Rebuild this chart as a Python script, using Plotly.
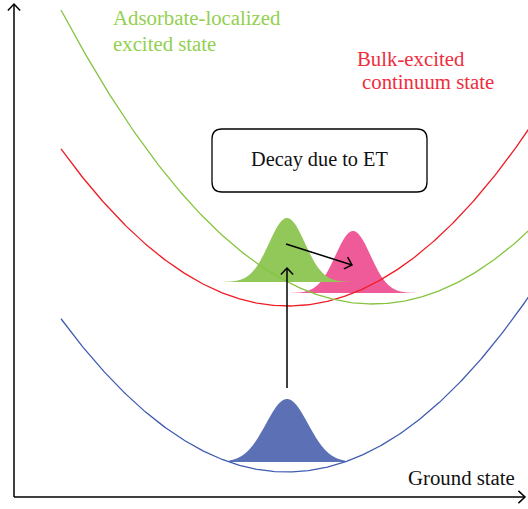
import numpy as np
import plotly.graph_objects as go

W, H = 528, 509

# Potential-energy curves (schematic parabolas): name, centre x, minimum energy, curvature, colour
curve_names = ["Ground state", "Bulk-excited continuum state", "Adsorbate-localized excited state"]
curve_center = [287, 288, 373]
curve_min = [37, 203, 205]
curve_k = [0.0030, 0.00305, 0.00302]
curve_colors = ["#3f5bb0", "#ee1c24", "#86c440"]
curve_xstart = [61, 61, 61]

# Wave packets (Gaussians): centre x, base energy, height, sigma, half-width of base, colour
pk_names = ["pink", "green", "blue"]
pk_center = [353, 287, 287]
pk_base = [216, 227, 47]
pk_height = [62, 64, 63]
pk_sigma = [17.5, 18, 21]
pk_half = [64, 63, 58]
pk_colors = ["#ef5a99", "#92c85a", "#5b70b5"]

fig = go.Figure()

# Gaussian packets
for c, b, h, s, hw, col in zip(pk_center, pk_base, pk_height, pk_sigma, pk_half, pk_colors):
    xs = np.linspace(c - hw, c + hw, 200)
    ys = b + h * np.exp(-((xs - c) ** 2) / (2 * s * s))
    xs = np.concatenate([xs, [c + hw, c - hw]])
    ys = np.concatenate([ys, [b, b]])
    fig.add_trace(go.Scatter(x=xs, y=ys, fill="toself", fillcolor=col, mode="none",
                             hoverinfo="skip", showlegend=False))

# Parabolas
for c, m, k, col, x0 in zip(curve_center, curve_min, curve_k, curve_colors, curve_xstart):
    xs = np.linspace(x0, W + 10, 300)
    ys = m + k * (xs - c) ** 2
    fig.add_trace(go.Scatter(x=xs, y=ys, mode="lines", line=dict(color=col, width=1.3),
                             hoverinfo="skip", showlegend=False))


def arrow(x0, y0, x1, y1, head=8, width=1.5, color="black"):
    fig.add_trace(go.Scatter(x=[x0, x1], y=[y0, y1], mode="lines",
                             line=dict(color=color, width=width), hoverinfo="skip", showlegend=False))
    ang = np.arctan2(y1 - y0, x1 - x0)
    hx, hy = [], []
    for da in (np.pi - 0.75, None, np.pi + 0.75):
        if da is None:
            hx.append(x1); hy.append(y1)
        else:
            hx.append(x1 + head * np.cos(ang + da)); hy.append(y1 + head * np.sin(ang + da))
    fig.add_trace(go.Scatter(x=hx, y=hy, mode="lines", line=dict(color=color, width=width),
                             hoverinfo="skip", showlegend=False))


# Axes (energy up, nuclear coordinate right)
axis_origin = (14, 12)
axis_ends = (525, 505)
arrow(axis_origin[0], axis_origin[1], axis_origin[0], axis_ends[1], head=9)
arrow(axis_origin[0], axis_origin[1], axis_ends[0], axis_origin[1], head=9)

# Excitation and electron-transfer arrows
arrow(287, 121, 287, 241, head=9)
arrow(286, 265, 352, 244, head=9)

# Rounded box
bx0, bx1, by0, by1, r = 212, 427, 317, 380, 10
path = (f"M {bx0+r},{by0} L {bx1-r},{by0} Q {bx1},{by0} {bx1},{by0+r} "
        f"L {bx1},{by1-r} Q {bx1},{by1} {bx1-r},{by1} L {bx0+r},{by1} "
        f"Q {bx0},{by1} {bx0},{by1-r} L {bx0},{by0+r} Q {bx0},{by0} {bx0+r},{by0} Z")
fig.add_shape(type="path", path=path, line=dict(color="black", width=1.3), fillcolor="white",
              xref="x", yref="y", layer="below")

serif = "Liberation Serif"
labels = [
    ("Adsorbate-localized", 111, 492, "#92d050"),
    ("excited state", 111, 466, "#92d050"),
    ("Bulk-excited", 355, 451, "#ee2d3d"),
    ("continuum state", 360, 428, "#ee2d3d"),
    ("Ground state", 406, 32, "#111111"),
]
for t, x, y, col in labels:
    fig.add_annotation(text=t, x=x, y=y, xref="x", yref="y", xanchor="left", yanchor="middle",
                       showarrow=False, font=dict(family=serif, size=20.8, color=col))
fig.add_annotation(text="Decay due to ET", x=(bx0 + bx1) / 2, y=(by0 + by1) / 2 + 1, xref="x", yref="y",
                   showarrow=False, font=dict(family=serif, size=20.3, color="#111111"))

fig.update_layout(
    width=W, height=H, margin=dict(l=0, r=0, t=0, b=0),
    paper_bgcolor="white", plot_bgcolor="white",
    xaxis=dict(range=[0, W], visible=False, fixedrange=True),
    yaxis=dict(range=[0, H], visible=False, fixedrange=True),
    showlegend=False,
    font=dict(family=serif),
)
fig.write_html("out.html", config={"displayModeBar": False},
               post_script="document.body.style.margin='0';document.body.style.overflow='hidden';")
